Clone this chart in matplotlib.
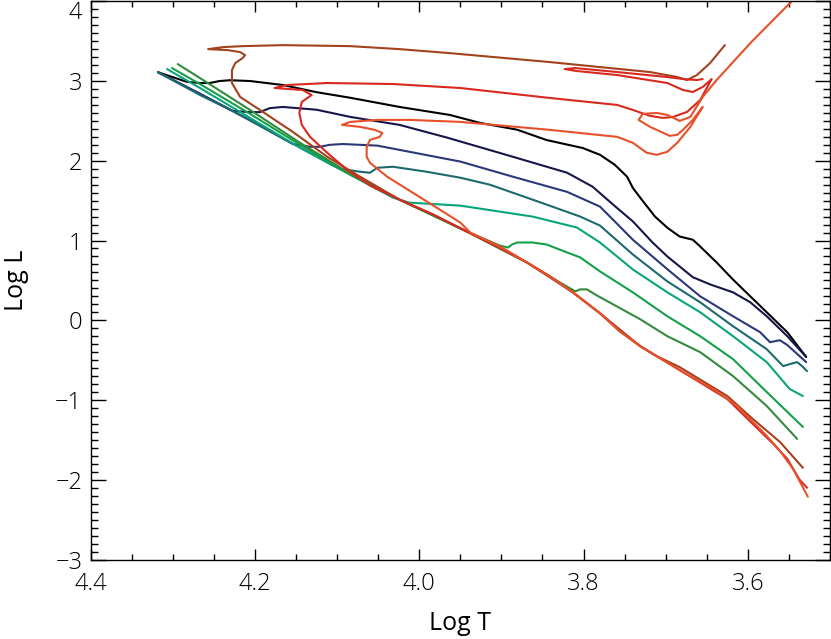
import numpy as np
import matplotlib
matplotlib.use("Agg")
import matplotlib.pyplot as plt
from matplotlib.ticker import MultipleLocator

# isochrones: (log T, log L), one pair of lists per curve
t_black = [4.318, 4.283, 4.267, 4.255, 4.243, 4.230, 4.206, 4.166, 4.125, 4.084, 4.024, 3.963, 3.926,
           3.881, 3.845, 3.801, 3.780, 3.762, 3.747, 3.740, 3.729, 3.713, 3.698, 3.683, 3.667, 3.658,
           3.638, 3.618, 3.577, 3.552, 3.529]
l_black = [3.11, 2.99, 2.975, 2.975, 3.0, 3.01, 3.0, 2.95, 2.86, 2.79, 2.675, 2.575, 2.475,
           2.39, 2.26, 2.16, 2.075, 1.95, 1.8, 1.66, 1.51, 1.3, 1.16, 1.05, 1.01, 0.925,
           0.725, 0.51, 0.1, -0.15, -0.46]

t_navy = [4.318, 4.267, 4.227, 4.206, 4.194, 4.182, 4.166, 4.125, 4.084, 4.024, 3.966, 3.886, 3.820,
          3.789, 3.764, 3.740, 3.716, 3.698, 3.667, 3.646, 3.618, 3.597, 3.577, 3.552, 3.529]
l_navy = [3.11, 2.84, 2.625, 2.61, 2.61, 2.66, 2.675, 2.64, 2.55, 2.45, 2.29, 2.05, 1.85,
          1.675, 1.45, 1.24, 0.975, 0.8, 0.54, 0.45, 0.35, 0.225, 0.05, -0.2, -0.46]

t_blue = [4.318, 4.267, 4.206, 4.154, 4.133, 4.121, 4.109, 4.093, 4.051, 3.950, 3.886, 3.820, 3.780,
          3.764, 3.740, 3.698, 3.658, 3.618, 3.585, 3.573, 3.561, 3.552, 3.537, 3.529]
l_blue = [3.11, 2.84, 2.51, 2.21, 2.175, 2.175, 2.2, 2.21, 2.19, 1.99, 1.8, 1.61, 1.425,
          1.26, 1.01, 0.64, 0.3, 0.05, -0.15, -0.275, -0.25, -0.31, -0.45, -0.525]

t_teal = [4.318, 4.267, 4.230, 4.194, 4.149, 4.109, 4.097, 4.072, 4.060, 4.051, 4.032, 3.991, 3.950,
          3.914, 3.862, 3.804, 3.780, 3.740, 3.698, 3.658, 3.618, 3.577, 3.557, 3.549, 3.540, 3.534, 3.528]
l_teal = [3.11, 2.825, 2.638, 2.438, 2.188, 1.963, 1.90, 1.8625, 1.85, 1.9125, 1.925, 1.8625, 1.7875,
          1.70, 1.5125, 1.3, 1.1875, 0.825, 0.4875, 0.225, -0.075, -0.3625, -0.575, -0.55, -0.525, -0.575, -0.6375]

t_seagreen = [4.307, 4.267, 4.206, 4.145, 4.084, 4.032, 4.012, 3.991, 3.950, 3.862, 3.808, 3.780,
              3.740, 3.698, 3.658, 3.618, 3.577, 3.549, 3.533]
l_seagreen = [3.15, 2.9125, 2.5375, 2.1625, 1.825, 1.5375, 1.475, 1.4625, 1.4375, 1.3, 1.1625, 0.975,
              0.6375, 0.35, 0.1, -0.2, -0.525, -0.8625, -0.95]

t_green = [4.301, 4.267, 4.206, 4.145, 4.084, 4.024, 3.942, 3.902, 3.892, 3.887, 3.881, 3.862, 3.845,
           3.820, 3.804, 3.780, 3.740, 3.698, 3.658, 3.618, 3.577, 3.533]
l_green = [3.1625, 2.9625, 2.5875, 2.2, 1.825, 1.5125, 1.1125, 0.9375, 0.9125, 0.95, 0.975, 0.975, 0.95,
           0.85, 0.7875, 0.6125, 0.35, 0.05, -0.2, -0.4875, -0.9, -1.3375]

t_dkgreen = [4.294, 4.267, 4.206, 4.145, 4.084, 4.024, 3.942, 3.869, 3.829, 3.810, 3.804, 3.796, 3.784,
             3.731, 3.698, 3.658, 3.618, 3.577, 3.540]
l_dkgreen = [3.2125, 3.0375, 2.6375, 2.225, 1.8375, 1.5125, 1.1125, 0.725, 0.475, 0.3625, 0.3875, 0.3875, 0.3125,
             0.0125, -0.2, -0.4, -0.7, -1.075, -1.4875]

t_brown = [3.533, 3.561, 3.594, 3.625, 3.683, 3.711, 3.731, 3.780, 3.813, 3.869, 3.942, 3.983, 4.024,
           4.072, 4.112, 4.154, 4.194, 4.218, 4.228, 4.228, 4.224, 4.215, 4.212, 4.218, 4.233, 4.257,
           4.239, 4.215, 4.166, 4.084, 4.024, 3.963, 3.841, 3.719, 3.686, 3.674, 3.662, 3.646, 3.628]
l_brown = [-1.85, -1.525, -1.2375, -0.95, -0.5875, -0.45, -0.325, 0.0875, 0.35, 0.725, 1.1125, 1.325, 1.5125,
           1.8, 2.05, 2.3625, 2.6375, 2.8, 2.975, 3.1375, 3.225, 3.2875, 3.325, 3.3625, 3.3875, 3.4,
           3.425, 3.4375, 3.45, 3.4375, 3.4, 3.35, 3.2375, 3.1125, 3.05, 3.0125, 3.075, 3.225, 3.45]

t_red = [3.528, 3.537, 3.552, 3.569, 3.594, 3.625, 3.683, 3.707, 3.731, 3.756, 3.780, 3.813, 3.841,
         3.869, 3.902, 3.942, 3.983, 4.024, 4.060, 4.088, 4.112, 4.133, 4.143, 4.146, 4.143, 4.131,
         4.142, 4.176, 4.161, 4.112, 4.032, 3.950, 3.841, 3.759, 3.740, 3.719, 3.703, 3.691, 3.674,
         3.658, 3.644, 3.655, 3.667, 3.679, 3.698, 3.759, 3.808, 3.823, 3.810, 3.759, 3.698, 3.679,
         3.662, 3.655]
l_red = [-2.1, -2.0, -1.7375, -1.55, -1.3, -0.9875, -0.625, -0.475, -0.325, -0.1375, 0.0875, 0.35, 0.55,
         0.725, 0.925, 1.1125, 1.325, 1.5125, 1.69, 1.8875, 2.1, 2.3, 2.45, 2.6, 2.7375, 2.825,
         2.8875, 2.9125, 2.95, 2.975, 2.9625, 2.9125, 2.7875, 2.7, 2.6375, 2.5625, 2.5375, 2.55, 2.6125,
         2.7625, 3.025, 2.925, 2.8625, 2.8875, 2.975, 3.075, 3.125, 3.15, 3.1625, 3.1125, 3.05, 3.025,
         3.0125, 3.025]

t_orange = [3.527, 3.545, 3.561, 3.577, 3.613, 3.642, 3.683, 3.707, 3.731, 3.756, 3.780, 3.813, 3.841,
            3.869, 3.902, 3.938, 3.950, 3.975, 4.008, 4.039, 4.060, 4.064, 4.064, 4.060, 4.048, 4.045,
            4.054, 4.072, 4.094, 4.084, 4.051, 4.011, 3.950, 3.841, 3.759, 3.740, 3.723, 3.711, 3.698,
            3.686, 3.670, 3.655, 3.667, 3.679, 3.686, 3.695, 3.703, 3.719, 3.733, 3.728, 3.711, 3.698,
            3.683, 3.670, 3.655, 3.638, 3.597, 3.543]
l_orange = [-2.2125, -1.8625, -1.6375, -1.45, -1.075, -0.8625, -0.625, -0.475, -0.325, -0.1375, 0.0875, 0.35, 0.55,
            0.725, 0.925, 1.1, 1.225, 1.3875, 1.6, 1.8, 1.975, 2.05, 2.175, 2.2625, 2.3, 2.35,
            2.3875, 2.425, 2.45, 2.4875, 2.5125, 2.5125, 2.4875, 2.3875, 2.3, 2.225, 2.1, 2.075, 2.1125,
            2.225, 2.425, 2.675, 2.5125, 2.3875, 2.325, 2.3125, 2.35, 2.425, 2.5125, 2.5875, 2.6, 2.575,
            2.5, 2.55, 2.8, 3.0125, 3.475, 4.0375]

curves = [
    (t_black, l_black, "#000000"),
    (t_navy, l_navy, "#16164a"),
    (t_blue, l_blue, "#2b3879"),
    (t_teal, l_teal, "#1d6a6e"),
    (t_seagreen, l_seagreen, "#08a57a"),
    (t_green, l_green, "#14a04a"),
    (t_dkgreen, l_dkgreen, "#348a3c"),
    (t_brown, l_brown, "#a3421c"),
    (t_red, l_red, "#d8281f"),
    (t_orange, l_orange, "#e8502a"),
]

plt.rcParams["font.family"] = ["Open Sans", "DejaVu Sans"]
plt.rcParams["font.weight"] = "light"
fig = plt.figure(figsize=(8.31, 6.39), dpi=100)
ax = fig.add_axes([0.1091, 0.1244, 0.8897, 0.8736])

for t, l, c in curves:
    ax.plot(t, l, color=c, lw=1.5, solid_joinstyle="round", solid_capstyle="round")

ax.set_xlim(4.4, 3.5)
ax.set_ylim(-3, 4)
ax.set_xticks([4.4, 4.2, 4.0, 3.8, 3.6])
ax.set_xticklabels(["4.4", "4.2", "4.0", "3.8", "3.6"])
ax.set_yticks(np.arange(-3, 5))
ax.xaxis.set_minor_locator(MultipleLocator(0.05))
ax.yaxis.set_minor_locator(MultipleLocator(0.1))

ax.tick_params(axis="x", which="both", direction="in", top=True, bottom=True, labelsize=17, pad=9)
ax.tick_params(axis="y", which="both", direction="in", left=True, right=True, labelsize=17, pad=6)
ax.tick_params(axis="x", which="major", length=8, width=1)
ax.tick_params(axis="x", which="minor", length=4, width=1)
ax.tick_params(axis="y", which="major", length=10.5, width=1)
ax.tick_params(axis="y", which="minor", length=5.3, width=1)
for s in ax.spines.values():
    s.set_linewidth(1)

ax.yaxis.get_major_ticks()[-1].label1.set_verticalalignment("top")

ax.set_xlabel("Log T", fontsize=18, labelpad=11)
ax.set_ylabel("Log L", fontsize=18, labelpad=19)

fig.savefig("out.png", dpi=100)
